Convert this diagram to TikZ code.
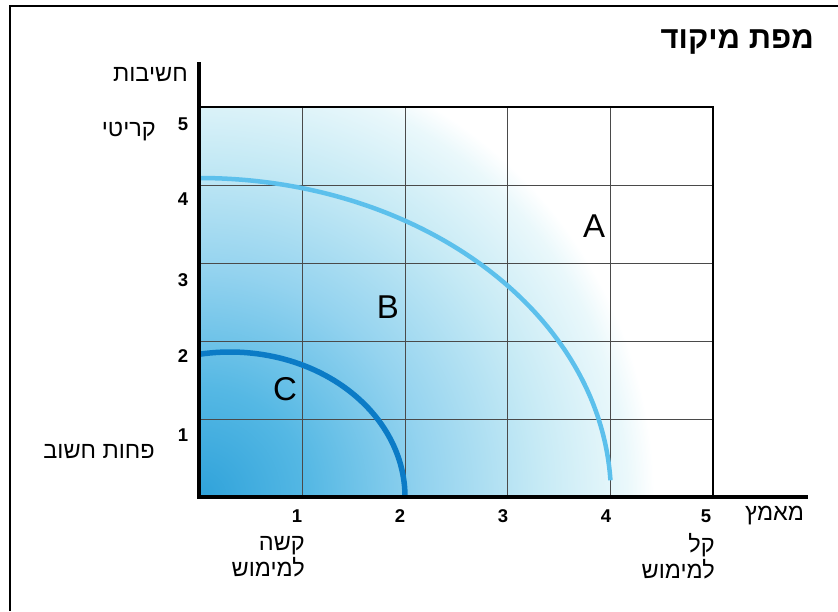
\documentclass[tikz,border=0pt]{standalone}
\usepackage{fontspec}
\setmainfont{Liberation Sans}
\newfontfamily\heb[Script=Hebrew]{Liberation Sans}
\TeXXeTstate=1
\definecolor{shA}{HTML}{2FA2DA}
\definecolor{shB}{HTML}{55B8E4}
\definecolor{shC}{HTML}{94D3EF}
\definecolor{shD}{HTML}{C6EAF5}
\definecolor{shE}{HTML}{EAF8FB}
\definecolor{curveA}{HTML}{5CC0EC}
\definecolor{curveC}{HTML}{0B7BC6}
\definecolor{gridgray}{HTML}{4A4A4A}
\pgfdeclareradialshading{cornershade}{\pgfpoint{0bp}{0bp}}{color(0bp)=(shA); color(6bp)=(shB); color(12.5bp)=(shC); color(18.75bp)=(shD); color(23.5bp)=(shE); color(25bp)=(white); color(50bp)=(white)}
\begin{document}
\begin{tikzpicture}[x=1pt,y=-1pt,
  lbl/.style={font=\heb\fontsize{23.5}{26}\selectfont, inner sep=0pt, align=right},
  ttl/.style={font=\heb\bfseries\fontsize{31}{36}\selectfont, inner sep=0pt},
  tick/.style={font=\bfseries\fontsize{18.5}{22}\selectfont, inner sep=0pt},
  zone/.style={font=\fontsize{33}{38}\selectfont, inner sep=0pt},
  gridline/.style={draw=gridgray, line width=0.8pt},
  axis/.style={draw=black, line width=4.5pt},
  plotframe/.style={draw=black, line width=1.8pt},
  frameline/.style={draw=black, line width=1.8pt},
  curvea/.style={draw=curveA, line width=4.5pt},
  curvec/.style={draw=curveC, line width=5.5pt}]
\useasboundingbox[fill=white] (0,0) rectangle (838,611);
% outer frame
\coordinate (fbl) at (10,611);
\coordinate (ftl) at (10,6);
\coordinate (ftr) at (838,6);
\draw[frameline] (fbl) -- (ftl) -- (ftr);
% shaded region
\begin{scope}
  \clip (199,107) rectangle (713,497);
  \shade[shading=cornershade] (199,497) circle (455);
\end{scope}
% grid
\foreach \x in {302,405,507,610} { \draw[gridline] (\x,107) -- (\x,497); }
\foreach \y in {185,263,341,419} { \draw[gridline] (199,\y) -- (713,\y); }
% curves
\draw[curvea] (199,497) ++(270:412 and 319) arc[start angle=270, end angle=357, x radius=412, y radius=319];
\draw[curvec] (230,497) ++(259.8:175 and 145) arc[start angle=259.8, end angle=360, x radius=175, y radius=145];
% plot frame
\coordinate (ptl) at (199,107);
\coordinate (ptr) at (713,107);
\coordinate (pbr) at (713,497);
\draw[plotframe] (ptl) -- (ptr) -- (pbr);
% axes
\coordinate (ytop) at (199,62);
\coordinate (O) at (199,497);
\coordinate (xend) at (808,497);
\draw[axis] (ytop) -- (O) -- (xend);
% title
\node[ttl, anchor=east] (title) at (814,42) {\beginR מפת מיקוד\endR};
% y axis labels
\node[lbl, anchor=east] (ylab) at (188,75) {\beginR חשיבות\endR};
\node[lbl, anchor=east] (crit) at (156,132) {\beginR קריטי\endR};
\node[lbl, anchor=east] (less) at (155,452) {\beginR פחות חשוב\endR};
% x axis labels
\node[lbl, anchor=west] (xlab) at (745,516) {\beginR מאמץ\endR};
\node[lbl, anchor=north east] (hard) at (305,536) {\beginR קשה\endR\\\beginR למימוש\endR};
\node[lbl, anchor=north east] (easy) at (715,533) {\beginR קל\endR\\\beginR למימוש\endR};
% ticks
\node[tick] (y5) at (183,124) {5};
\node[tick] (y4) at (183,199) {4};
\node[tick] (y3) at (183,280) {3};
\node[tick] (y2) at (183,356) {2};
\node[tick] (y1) at (183,435) {1};
\node[tick] (x1) at (297,516) {1};
\node[tick] (x2) at (400,516) {2};
\node[tick] (x3) at (503,516) {3};
\node[tick] (x4) at (606,516) {4};
\node[tick] (x5) at (706,516) {5};
% zones
\node[zone] (A) at (594,226) {A};
\node[zone] (B) at (388,307) {B};
\node[zone] (C) at (285,389) {C};
\end{tikzpicture}
\end{document}
